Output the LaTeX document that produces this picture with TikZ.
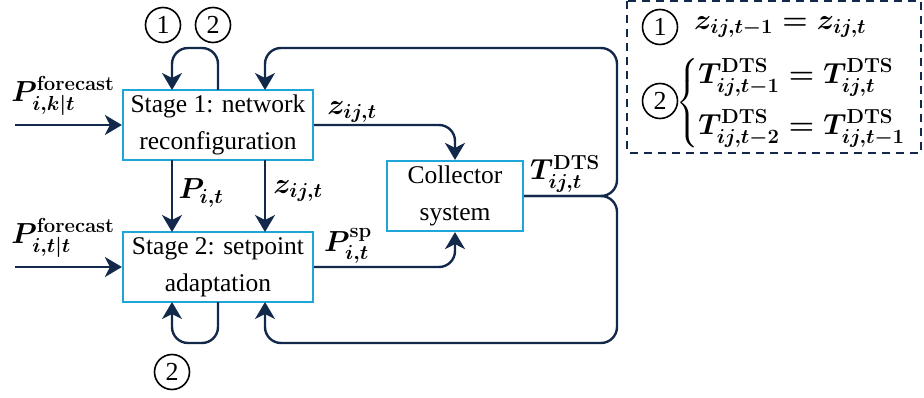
\RequirePackage{fix-cm}
\documentclass[tikz,border=0pt]{standalone}
\usepackage{amsmath}
\usepackage[no-math]{fontspec}
\setmainfont{Liberation Serif}
\newfontfamily\boxfont{Liberation Serif}
\usetikzlibrary{arrows.meta}
\definecolor{navy}{HTML}{13294B}
\definecolor{boxcyan}{HTML}{1FA6D9}
\newcommand{\bmath}[1]{{\boldmath$#1$}}
\begin{document}
\begin{tikzpicture}[x=1pt,y=-1pt,
  box/.style={draw=boxcyan, line width=2.2pt, fill=white, minimum width=190pt,
    minimum height=70pt, align=center, inner sep=0pt,
    font=\boxfont\fontsize{25.5}{37}\selectfont},
  flow/.style={draw=navy, line width=2.4pt, rounded corners=16pt,
    -{Stealth[length=17pt,width=20pt,inset=5pt]}},
  lbl/.style={font=\fontsize{29}{34}\selectfont, inner sep=0pt},
  num/.style={circle, draw=black, line width=1.6pt, minimum size=35pt,
    inner sep=0pt, font=\boxfont\fontsize{26}{30}\selectfont}]
\useasboundingbox (0,0) rectangle (924,398);

% process blocks
\node[box] (s1) at (218,125) {Stage 1: network\\reconfiguration};
\node[box] (s2) at (218,267) {Stage 2: setpoint\\adaptation};
\node[box, minimum width=136pt] (cs) at (455,196) {Collector\\system};

% external inputs
\coordinate (in1) at (15,125);
\coordinate (in2) at (15,267);
\draw[flow] (in1) -- (s1.west);
\draw[flow] (in2) -- (s2.west);
\node[lbl] (lf1) at (63,96) {\bmath{P^{\mathrm{forecast}}_{i,k|t}}};
\node[lbl] (lf2) at (63,238) {\bmath{P^{\mathrm{forecast}}_{i,t|t}}};

% stage 1 self loop
\coordinate (a1) at (218,90);
\coordinate (a2) at (172,90);
\draw[flow] (a1) -- (218,48) -- (172,48) -- (a2);
\node[num] (c1) at (163,25) {1};
\node[num] (c2) at (213,25) {2};

% stage 2 self loop
\coordinate (b1) at (218,302);
\coordinate (b2) at (172,302);
\draw[flow] (b1) -- (218,343) -- (172,343) -- (b2);
\node[num] (c3) at (172,372) {2};

% stage 1 to stage 2
\coordinate (d1) at (172,160);
\coordinate (d2) at (172,232);
\coordinate (e1) at (265,160);
\coordinate (e2) at (265,232);
\draw[flow] (d1) -- (d2);
\draw[flow] (e1) -- (e2);
\node[lbl] (lp) at (201,193) {\bmath{P_{i,t}}};
\node[lbl] (lz) at (298,191) {\bmath{z_{ij,t}}};

% stages to collector
\draw[flow] (s1.east) -- (455,125) -- (cs.north);
\draw[flow] (s2.east) -- (455,267) -- (cs.south);
\node[lbl] (lz2) at (352,112) {\bmath{z_{ij,t}}};
\node[lbl] (lsp) at (348,246) {\bmath{P^{\mathrm{sp}}_{i,t}}};

% temperature feedback
\coordinate (f1) at (265,90);
\coordinate (f2) at (265,302);
\draw[flow] (cs.east) -- (617,196) -- (617,48) -- (265,48) -- (f1);
\draw[flow] (cs.east) -- (617,196) -- (617,343) -- (265,343) -- (f2);
\node[lbl] (lt) at (565,174) {\bmath{T^{\mathrm{DTS}}_{ij,t}}};

% legend
\draw[navy, line width=2pt, dash pattern=on 8pt off 6pt] (627,1.5) rectangle (921,153);
\node[num] (k1) at (660,27) {1};
\node[num] (k2) at (660,101) {2};
\node[lbl, anchor=west] (eq1) at (694,27) {\bmath{z_{ij,t-1}=z_{ij,t}}};
\node[lbl, anchor=west] (eq2) at (676,103) {\bmath{\left\{\begin{array}{@{}l@{}}
  T^{\mathrm{DTS}}_{ij,t-1}=T^{\mathrm{DTS}}_{ij,t}\\[16pt]
  T^{\mathrm{DTS}}_{ij,t-2}=T^{\mathrm{DTS}}_{ij,t-1}\end{array}\right.}};
\end{tikzpicture}
\end{document}
